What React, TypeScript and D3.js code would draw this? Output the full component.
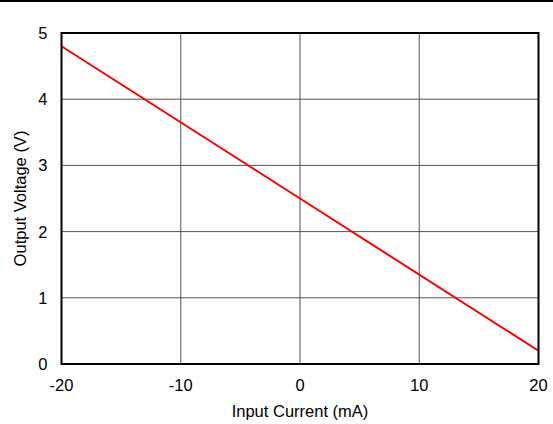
import React from "react";
import * as d3 from "d3";

const currents = [-20, 0, 20];
const voltages = [4.8, 2.5, 0.2];
const xTicks = [-20, -10, 0, 10, 20];
const yTicks = [0, 1, 2, 3, 4, 5];

export default function App() {
  const W = 553, H = 424;
  const L = 61.5, R = 538.5, T = 33, B = 364;
  const x = d3.scaleLinear().domain([-20, 20]).range([L, R]);
  const y = d3.scaleLinear().domain([0, 5]).range([B, T]);
  const line = d3.line<number>().x((_, i) => x(currents[i])).y((d) => y(d));
  const font = "'Liberation Sans', Arial, sans-serif";
  const fs = 16.5;
  return (
    <svg width={W} height={H} style={{ position: "absolute", left: 0, top: 0, background: "#fff" }}>
      <line x1={0} x2={W} y1={1} y2={1} stroke="#000" strokeWidth={2} />
      {xTicks.slice(1, -1).map((t) => (
        <line key={"gx" + t} x1={x(t)} x2={x(t)} y1={T} y2={B} stroke="#555" strokeWidth={1} />
      ))}
      {yTicks.slice(1, -1).map((t) => (
        <line key={"gy" + t} x1={L} x2={R} y1={y(t)} y2={y(t)} stroke="#555" strokeWidth={1} />
      ))}
      <path d={line(voltages) || ""} fill="none" stroke="#ff0000" strokeWidth={2} />
      <rect x={L} y={T} width={R - L} height={B - T} fill="none" stroke="#000" strokeWidth={2} />
      {xTicks.map((t) => (
        <text key={"tx" + t} x={x(t)} y={B + 27} textAnchor="middle" fontFamily={font} fontSize={fs} fill="#000">
          {t}
        </text>
      ))}
      {yTicks.map((t) => (
        <text key={"ty" + t} x={L - 14} y={y(t) + 6} textAnchor="end" fontFamily={font} fontSize={fs} fill="#000">
          {t}
        </text>
      ))}
      <text x={(L + R) / 2} y={417} textAnchor="middle" fontFamily={font} fontSize={fs} fill="#000">
        Input Current (mA)
      </text>
      <text
        transform={`translate(26, ${(T + B) / 2}) rotate(-90)`}
        textAnchor="middle"
        fontFamily={font}
        fontSize={fs}
        fill="#000"
      >
        Output Voltage (V)
      </text>
    </svg>
  );
}
